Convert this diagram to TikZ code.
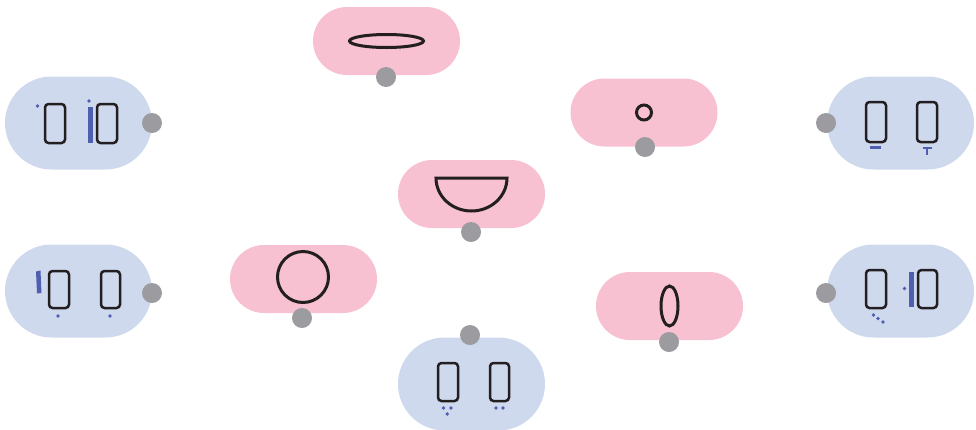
\documentclass[tikz,border=0pt]{standalone}
\usetikzlibrary{calc}
\definecolor{pillblue}{HTML}{CFD9EE}
\definecolor{pillpink}{HTML}{F7C1D2}
\definecolor{dotgrey}{HTML}{9B9BA0}
\definecolor{symblue}{HTML}{4F5FB0}
\definecolor{ink}{HTML}{231F20}
\tikzset{
  bluepill/.style={fill=pillblue, draw=none, rounded corners=46.5pt, minimum width=147pt, minimum height=93pt, inner sep=0pt},
  pinkpill/.style={fill=pillpink, draw=none, rounded corners=34pt, minimum width=147pt, minimum height=68pt, inner sep=0pt},
  handle/.style={circle, fill=dotgrey, draw=none, minimum size=20pt, inner sep=0pt},
  mouth/.style={draw=ink, line width=3pt},
  tooth/.style={draw=ink, line width=2.5pt, rounded corners=3.5pt},
  symfill/.style={fill=symblue, draw=none},
  symline/.style={draw=symblue, line width=2pt}
}
\begin{document}
\begin{tikzpicture}[x=1pt,y=-1pt]
\useasboundingbox (0,0) rectangle (976,429);
% pills
\node[bluepill] (b1) at (78.5,123) {};
\node[bluepill] (b2) at (78.5,291) {};
\node[bluepill] (b3) at (900.5,123) {};
\node[bluepill] (b4) at (900.5,291) {};
\node[bluepill] (b5) at (471.5,384) {};
\node[pinkpill] (p1) at (386.5,41) {};
\node[pinkpill] (p2) at (644,112.5) {};
\node[pinkpill] (p3) at (471.5,194) {};
\node[pinkpill] (p4) at (303.5,279) {};
\node[pinkpill] (p5) at (669.5,306) {};
% handles
\node[handle] (h1) at (152,123) {};
\node[handle] (h2) at (152,293) {};
\node[handle] (h3) at (826,123) {};
\node[handle] (h4) at (826,293) {};
\node[handle] (h5) at (470,335) {};
\node[handle] (h6) at (386,77) {};
\node[handle] (h7) at (645,147) {};
\node[handle] (h8) at (471,232) {};
\node[handle] (h9) at (302,318) {};
\node[handle] (h10) at (669,342) {};
% pink symbols
\draw[mouth] (386.5,41) ellipse [x radius=37pt, y radius=6.5pt];
\draw[mouth] (644,112.5) circle [radius=7.5pt];
\draw[mouth] (436,178) -- (507,178) arc[start angle=0, end angle=180, x radius=35.5pt, y radius=-33pt] -- cycle;
\draw[mouth] (303,277) circle [radius=25.5pt];
\draw[mouth] (669.5,306) ellipse [x radius=8.5pt, y radius=20pt];
% b1
\draw[tooth] (45,104) rectangle (65,143);
\draw[tooth] (97,104) rectangle (117,143);
\fill[symfill] (37.5,106) circle [radius=1.9pt];
\fill[symfill] (89,101) circle [radius=1.9pt];
\fill[symfill] (88,107) rectangle (92.5,143);
% b2
\draw[tooth] (49,271) rectangle (69,308);
\draw[tooth] (101,271) rectangle (120,308);
\fill[symfill] (36,271.5) -- (40.5,270.5) -- (41.5,293) -- (37,293.5) -- cycle;
\fill[symfill] (58,316) circle [radius=1.9pt];
\fill[symfill] (110,316) circle [radius=1.9pt];
% b3
\draw[tooth] (866,102) rectangle (886,142);
\draw[tooth] (917,102) rectangle (937,142);
\fill[symfill] (870,146) rectangle (881,149);
\draw[symline] (922.5,147.5) -- (932,147.5) (927.3,147.5) -- (927.3,154.5);
% b4
\draw[tooth] (866,270) rectangle (886,308);
\draw[tooth] (918,270) rectangle (937,308);
\fill[symfill] (909,272) rectangle (914,307);
\fill[symfill] (904.5,288.5) circle [radius=1.9pt];
\fill[symfill] (873.5,315) circle [radius=1.9pt];
\fill[symfill] (878,318.5) circle [radius=1.9pt];
\fill[symfill] (883,322) circle [radius=1.9pt];
% b5
\draw[tooth] (438,363) rectangle (458,401);
\draw[tooth] (490,363) rectangle (509,401);
\fill[symfill] (443.5,408) circle [radius=1.9pt];
\fill[symfill] (451,408) circle [radius=1.9pt];
\fill[symfill] (447.3,414) circle [radius=1.9pt];
\fill[symfill] (496,408) circle [radius=1.9pt];
\fill[symfill] (503,408) circle [radius=1.9pt];
\end{tikzpicture}
\end{document}
